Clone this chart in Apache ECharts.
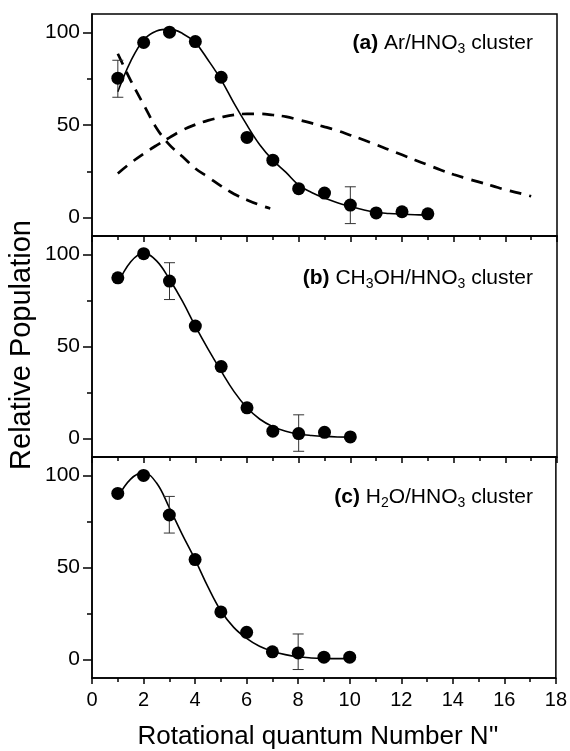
<!DOCTYPE html>
<html>
<head>
<meta charset="utf-8">
<script src="https://cdn.jsdelivr.net/npm/echarts@6/dist/echarts.min.js"></script>
<style>
  html, body { margin: 0; padding: 0; background: #fff; }
  #chart { width: 570px; height: 751px; }
</style>
</head>
<body>
<div id="chart"></div>
<script>
const FONT = "Liberation Sans, Arial, sans-serif";

// measured points, N'' = 1..13 (a) and 1..10 (b, c)
const N_A = [1, 2, 3, 4, 5, 6, 7, 8, 9, 10, 11, 12, 13];
const POP_A = [75.3, 94.6, 100.2, 95.1, 75.8, 43.3, 31.0, 15.6, 13.2, 6.7, 2.5, 3.1, 2.0];
const N_BC = [1, 2, 3, 4, 5, 6, 7, 8, 9, 10];
const POP_B = [87.3, 100.4, 85.5, 61.1, 39.1, 16.7, 4.0, 2.7, 3.4, 0.9];
const POP_C = [90.2, 100, 78.5, 54.3, 25.9, 14.8, 4.2, 3.6, 1.3, 1.3];

// error bars: [N, low, high]
const ERR_A = [[1, 65, 85], [10, -3.3, 16.6]];
const ERR_B = [[3, 75.5, 95.5], [8, -6.9, 12.9]];
const ERR_C = [[3, 68.7, 88.6], [8, -5.4, 13.9]];

// fitted curves every half step
const FIT_X_A = [1, 1.5, 2, 2.5, 3, 3.5, 4, 4.5, 5, 5.5, 6, 6.5, 7, 7.5, 8, 8.5, 9, 9.5, 10, 10.5, 11, 11.5, 12, 12.5, 13];
const FIT_A = [68, 84.5, 96, 100.8, 101.8, 99.5, 94.5, 85, 74.4, 61.7, 49.9, 39.2, 31, 24.5, 17.5, 13.5, 10.5, 8, 6, 4.2, 2.8, 2.2, 1.8, 1.5, 1.3];
const DASH1_X = [1, 1.5, 2, 2.5, 3, 3.5, 4, 4.5, 5, 5.5, 6, 6.5, 6.9];
const DASH1 = [88.5, 74, 61, 48.3, 39.3, 33, 26.5, 21.8, 17, 12.7, 9.5, 6.7, 4.9];
const DASH2_X = [1, 1.5, 2, 2.5, 3, 3.5, 4, 4.5, 5, 5.5, 6, 6.5, 7, 7.5, 8, 8.5, 9, 9.5, 10, 10.5, 11, 11.5, 12, 12.5, 13, 13.5, 14, 14.5, 15, 15.5, 16, 16.5, 17];
const DASH2 = [23.8, 29.5, 34.5, 39, 43.2, 47.2, 50.2, 52.5, 54.2, 55.5, 56, 56, 55.4, 54.5, 52.8, 51, 49, 47, 44.5, 42, 39.4, 36.6, 33.9, 31.1, 28.4, 25.7, 23.2, 21.1, 19.1, 17.1, 15, 13.3, 11.5];
const FIT_X_BC = [1, 1.5, 2, 2.5, 3, 3.5, 4, 4.5, 5, 5.5, 6, 6.5, 7, 7.5, 8, 8.5, 9, 9.5, 10];
const FIT_B = [84, 96, 100.8, 96.5, 86.5, 74.6, 61, 48.4, 36.6, 25.5, 16.7, 10.5, 6.5, 4, 2.5, 1.7, 1.2, 0.9, 0.8];
const FIT_C = [88, 98, 101.5, 96, 82.5, 68, 54.3, 39.5, 26.5, 17.5, 11.5, 7.2, 4.5, 2.7, 1.5, 0.9, 0.6, 0.5, 0.5];

const X_TICKS = [0, 18, 2];
const Y_LABELS = [0, 50, 100];
const Y_MINOR = [25, 75];

const zip = (xs, ys) => xs.map((x, i) => [x, ys[i]]);

const GRIDS = [
    { left: 92, right: 13, top: 14, height: 222 },
    { left: 92, right: 13, top: 236, height: 221 },
    { left: 92, right: 13, top: 457, height: 221 }
];

function xAxisFor(i) {
    return {
        type: "value",
        gridIndex: i,
        min: X_TICKS[0],
        max: X_TICKS[1],
        interval: X_TICKS[2],
        axisLine: { onZero: false, lineStyle: { color: "#000", width: 1.5 } },
        axisTick: { length: 6, lineStyle: { color: "#000", width: 1.5 } },
        minorTick: { show: true, splitNumber: 2, length: 4, lineStyle: { color: "#000", width: 1.5 } },
        splitLine: { show: false },
        axisLabel: {
            show: i === 2,
            color: "#000",
            fontFamily: FONT,
            fontSize: 20,
            margin: 12
        }
    };
}

function yAxesFor(i) {
    return [{
        type: "value",
        gridIndex: i,
        min: -10,
        max: 110,
        axisLine: { onZero: false, lineStyle: { color: "#000", width: 1.5 } },
        axisTick: { length: 9, customValues: Y_LABELS, lineStyle: { color: "#000", width: 1.5 } },
        splitLine: { show: false },
        axisLabel: {
            customValues: Y_LABELS,
            color: "#000",
            fontFamily: FONT,
            fontSize: 21,
            margin: 12
        }
    }, {
        type: "value",
        gridIndex: i,
        position: "left",
        min: -10,
        max: 110,
        axisLine: { show: false, onZero: false },
        axisTick: { length: 5, customValues: Y_MINOR, lineStyle: { color: "#000", width: 1.5 } },
        splitLine: { show: false },
        axisLabel: { show: false }
    }];
}

function errorBars(data, i) {
    return {
        type: "custom",
        xAxisIndex: i,
        yAxisIndex: i * 2,
        data,
        z: 3,
        renderItem(params, api) {
            const lo = api.coord([api.value(0), api.value(1)]);
            const hi = api.coord([api.value(0), api.value(2)]);
            const w = 5.5;
            const st = { stroke: "#333", lineWidth: 1 };
            return {
                type: "group",
                children: [
                    { type: "line", shape: { x1: lo[0], y1: lo[1], x2: hi[0], y2: hi[1] }, style: st },
                    { type: "line", shape: { x1: lo[0] - w, y1: lo[1], x2: lo[0] + w, y2: lo[1] }, style: st },
                    { type: "line", shape: { x1: hi[0] - w, y1: hi[1], x2: hi[0] + w, y2: hi[1] }, style: st }
                ]
            };
        }
    };
}

function fitLine(data, i, dashed) {
    return {
        type: "line",
        xAxisIndex: i,
        yAxisIndex: i * 2,
        data,
        smooth: 0.4,
        showSymbol: false,
        z: 2,
        lineStyle: {
            color: "#000",
            width: dashed ? 2.7 : 1.6,
            type: dashed ? [12, 8] : "solid"
        }
    };
}

function points(data, i) {
    return {
        type: "scatter",
        xAxisIndex: i,
        yAxisIndex: i * 2,
        data,
        symbolSize: 13,
        z: 4,
        itemStyle: { color: "#000", opacity: 1 }
    };
}

function panelLabel(tag, body, y) {
    return {
        type: "text",
        x: 533,
        y,
        style: {
            text: tag + body,
            align: "right",
            verticalAlign: "middle",
            rich: {
                b: { fontFamily: FONT, fontSize: 21, fontWeight: "bold", fill: "#000", lineHeight: 26 },
                n: { fontFamily: FONT, fontSize: 21, fill: "#000", lineHeight: 26 },
                s: { fontFamily: FONT, fontSize: 14, fill: "#000", lineHeight: 8, verticalAlign: "bottom" }
            }
        }
    };
}

const chart = echarts.init(document.getElementById("chart"));

chart.setOption({
    animation: false,
    grid: GRIDS.map(g => ({ ...g, show: true, borderColor: "#000", borderWidth: 1.5, backgroundColor: "transparent" })),
    xAxis: [0, 1, 2].map(xAxisFor),
    yAxis: [0, 1, 2].flatMap(yAxesFor),
    series: [
        fitLine(zip(FIT_X_A, FIT_A), 0, false),
        fitLine(zip(DASH1_X, DASH1), 0, true),
        fitLine(zip(DASH2_X, DASH2), 0, true),
        points(zip(N_A, POP_A), 0),
        errorBars(ERR_A, 0),
        fitLine(zip(FIT_X_BC, FIT_B), 1, false),
        points(zip(N_BC, POP_B), 1),
        errorBars(ERR_B, 1),
        fitLine(zip(FIT_X_BC, FIT_C), 2, false),
        points(zip(N_BC, POP_C), 2),
        errorBars(ERR_C, 2)
    ],
    graphic: [
        panelLabel("{b|(a)}", "{n| Ar/HNO}{s|3}{n| cluster}", 43),
        panelLabel("{b|(b)}", "{n| CH}{s|3}{n|OH/HNO}{s|3}{n| cluster}", 278),
        panelLabel("{b|(c)}", "{n| H}{s|2}{n|O/HNO}{s|3}{n| cluster}", 497),
        {
            type: "text",
            x: 22,
            y: 345,
            rotation: Math.PI / 2,
            style: {
                text: "Relative Population",
                fontFamily: FONT,
                fontSize: 29,
                fill: "#000",
                align: "center",
                verticalAlign: "middle"
            }
        },
        {
            type: "text",
            x: 318,
            y: 737,
            style: {
                text: "Rotational quantum Number N''",
                fontFamily: FONT,
                fontSize: 26,
                fill: "#000",
                align: "center",
                verticalAlign: "middle"
            }
        }
    ]
});
</script>
</body>
</html>
